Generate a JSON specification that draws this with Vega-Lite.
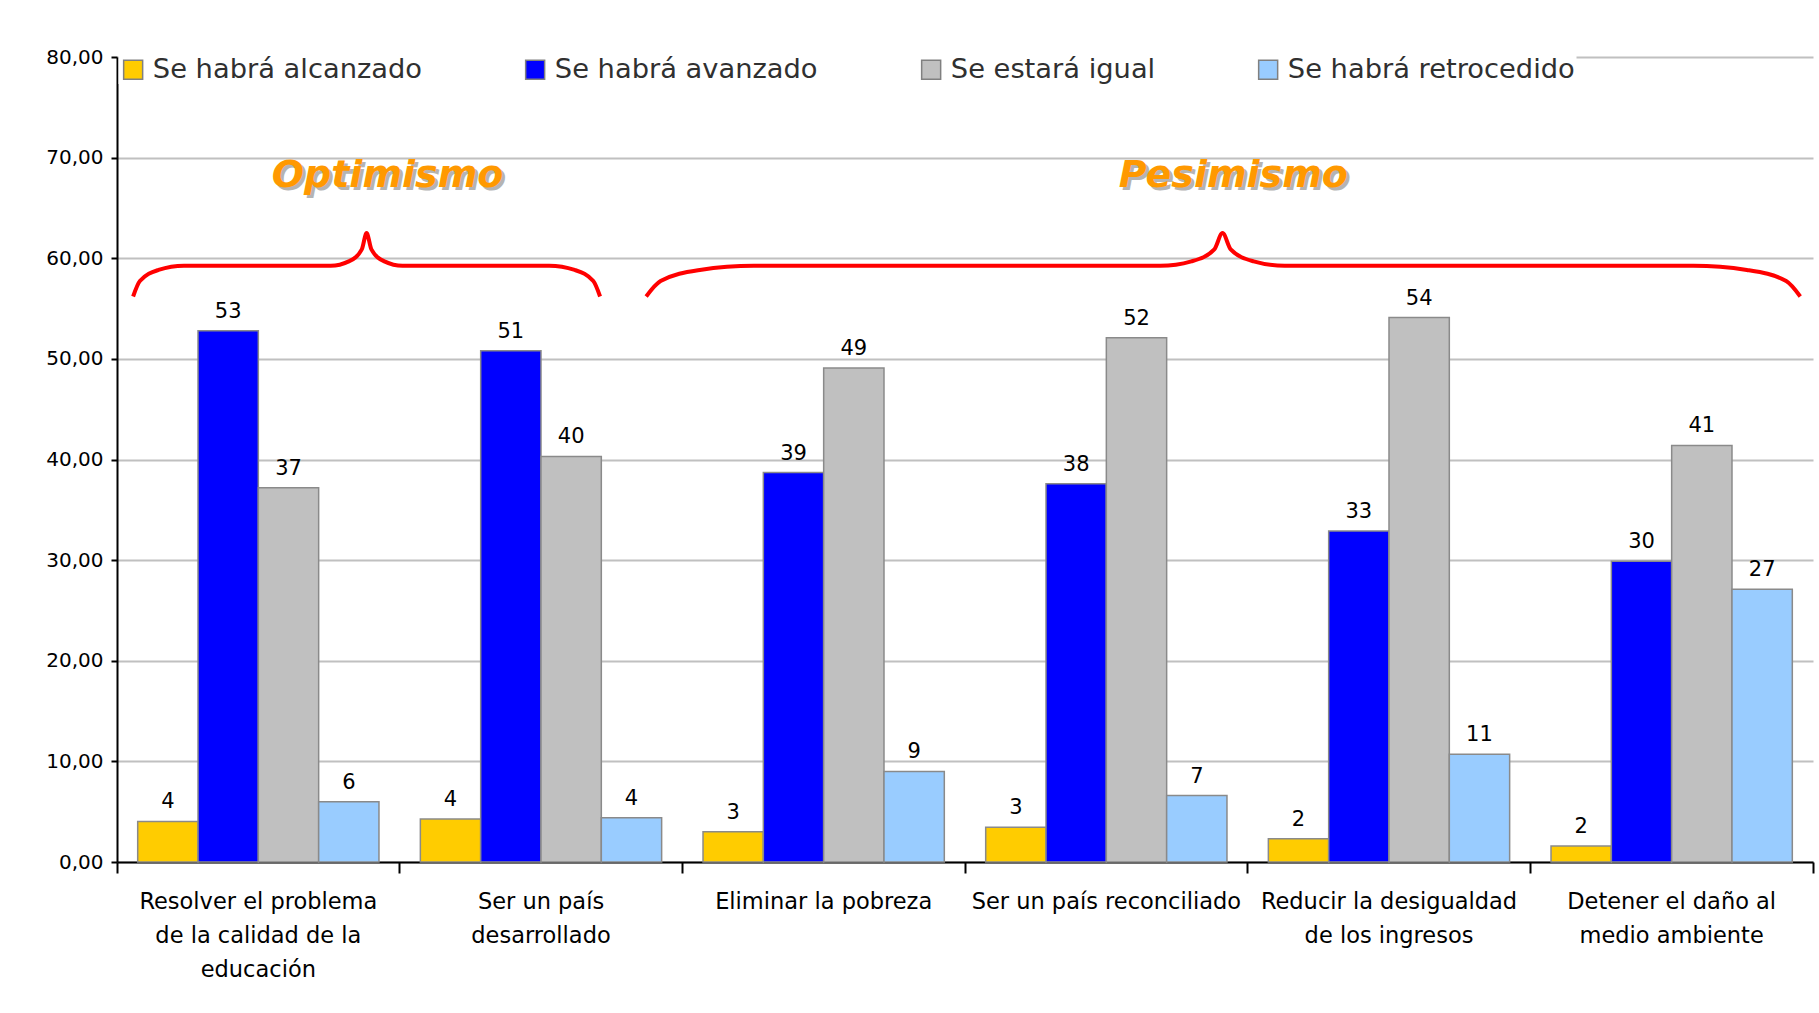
{
  "$schema": "https://vega.github.io/schema/vega-lite/v6.json",
  "width": 1696,
  "height": 805,
  "autosize": {"type": "none"},
  "padding": {"left": 117, "top": 57, "right": 6, "bottom": 151},
  "background": "white",
  "config": {"view": {"stroke": null}, "font": "DejaVu Sans"},
  "datasets": {
    "bars": [
      {"categoria": "Resolver el problema de la calidad de la educación", "serie": "Se habrá alcanzado", "valor": 4.03},
      {"categoria": "Resolver el problema de la calidad de la educación", "serie": "Se habrá avanzado", "valor": 52.8},
      {"categoria": "Resolver el problema de la calidad de la educación", "serie": "Se estará igual", "valor": 37.2},
      {"categoria": "Resolver el problema de la calidad de la educación", "serie": "Se habrá retrocedido", "valor": 6.0},
      {"categoria": "Ser un país desarrollado", "serie": "Se habrá alcanzado", "valor": 4.27},
      {"categoria": "Ser un país desarrollado", "serie": "Se habrá avanzado", "valor": 50.8},
      {"categoria": "Ser un país desarrollado", "serie": "Se estará igual", "valor": 40.3},
      {"categoria": "Ser un país desarrollado", "serie": "Se habrá retrocedido", "valor": 4.4},
      {"categoria": "Eliminar la pobreza", "serie": "Se habrá alcanzado", "valor": 3.0},
      {"categoria": "Eliminar la pobreza", "serie": "Se habrá avanzado", "valor": 38.7},
      {"categoria": "Eliminar la pobreza", "serie": "Se estará igual", "valor": 49.1},
      {"categoria": "Eliminar la pobreza", "serie": "Se habrá retrocedido", "valor": 9.0},
      {"categoria": "Ser un país reconciliado", "serie": "Se habrá alcanzado", "valor": 3.45},
      {"categoria": "Ser un país reconciliado", "serie": "Se habrá avanzado", "valor": 37.6},
      {"categoria": "Ser un país reconciliado", "serie": "Se estará igual", "valor": 52.1},
      {"categoria": "Ser un país reconciliado", "serie": "Se habrá retrocedido", "valor": 6.6},
      {"categoria": "Reducir la desigualdad de los ingresos", "serie": "Se habrá alcanzado", "valor": 2.3},
      {"categoria": "Reducir la desigualdad de los ingresos", "serie": "Se habrá avanzado", "valor": 32.9},
      {"categoria": "Reducir la desigualdad de los ingresos", "serie": "Se estará igual", "valor": 54.1},
      {"categoria": "Reducir la desigualdad de los ingresos", "serie": "Se habrá retrocedido", "valor": 10.7},
      {"categoria": "Detener el daño al medio ambiente", "serie": "Se habrá alcanzado", "valor": 1.6},
      {"categoria": "Detener el daño al medio ambiente", "serie": "Se habrá avanzado", "valor": 29.9},
      {"categoria": "Detener el daño al medio ambiente", "serie": "Se estará igual", "valor": 41.4},
      {"categoria": "Detener el daño al medio ambiente", "serie": "Se habrá retrocedido", "valor": 27.1}
    ],
    "notas": [
      {"texto": "Optimismo", "pos": 0.957, "nivel": 68.2},
      {"texto": "Pesimismo", "pos": 3.949, "nivel": 68.2}
    ],
    "llaves": [
      {"llave": "opt", "pos": 0.057, "nivel": 56.2},
      {"llave": "opt", "pos": 0.081, "nivel": 57.73},
      {"llave": "opt", "pos": 0.147, "nivel": 58.84},
      {"llave": "opt", "pos": 0.237, "nivel": 59.25},
      {"llave": "opt", "pos": 0.756, "nivel": 59.25},
      {"llave": "opt", "pos": 0.820, "nivel": 59.69},
      {"llave": "opt", "pos": 0.866, "nivel": 60.88},
      {"llave": "opt", "pos": 0.883, "nivel": 62.5},
      {"llave": "opt", "pos": 0.900, "nivel": 60.88},
      {"llave": "opt", "pos": 0.946, "nivel": 59.69},
      {"llave": "opt", "pos": 1.010, "nivel": 59.25},
      {"llave": "opt", "pos": 1.529, "nivel": 59.25},
      {"llave": "opt", "pos": 1.619, "nivel": 58.84},
      {"llave": "opt", "pos": 1.685, "nivel": 57.73},
      {"llave": "opt", "pos": 1.709, "nivel": 56.2},
      {"llave": "pes", "pos": 1.872, "nivel": 56.2},
      {"llave": "pes", "pos": 1.923, "nivel": 57.73},
      {"llave": "pes", "pos": 2.062, "nivel": 58.84},
      {"llave": "pes", "pos": 2.253, "nivel": 59.25},
      {"llave": "pes", "pos": 3.691, "nivel": 59.25},
      {"llave": "pes", "pos": 3.801, "nivel": 59.69},
      {"llave": "pes", "pos": 3.882, "nivel": 60.88},
      {"llave": "pes", "pos": 3.911, "nivel": 62.5},
      {"llave": "pes", "pos": 3.940, "nivel": 60.88},
      {"llave": "pes", "pos": 4.021, "nivel": 59.69},
      {"llave": "pes", "pos": 4.131, "nivel": 59.25},
      {"llave": "pes", "pos": 5.577, "nivel": 59.25},
      {"llave": "pes", "pos": 5.766, "nivel": 58.84},
      {"llave": "pes", "pos": 5.905, "nivel": 57.73},
      {"llave": "pes", "pos": 5.955, "nivel": 56.2}
    ]
  },
  "layer": [
    {
      "data": {"name": "bars"},
      "encoding": {
        "x": {
          "field": "categoria", "type": "nominal", "sort": null,
          "scale": {"paddingInner": 0, "paddingOuter": 0},
          "axis": {
            "title": null, "labelAngle": 0, "labelFontSize": 22.5, "labelColor": "black",
            "labelLimit": 0, "labelLineHeight": 34, "labelPadding": 17, "labelBaseline": "top",
            "domainColor": "black", "domainWidth": 2, "tickColor": "black", "tickWidth": 2,
            "tickSize": 11, "bandPosition": 1, "tickExtra": true, "grid": false,
            "labelExpr": "datum.value == 'Resolver el problema de la calidad de la educación' ? ['Resolver el problema', 'de la calidad de la', 'educación'] : datum.value == 'Ser un país desarrollado' ? ['Ser un país', 'desarrollado'] : datum.value == 'Reducir la desigualdad de los ingresos' ? ['Reducir la desigualdad', 'de los ingresos'] : datum.value == 'Detener el daño al medio ambiente' ? ['Detener el daño al', 'medio ambiente'] : datum.label"
          }
        },
        "xOffset": {
          "field": "serie", "type": "nominal", "sort": ["Se habrá alcanzado", "Se habrá avanzado", "Se estará igual", "Se habrá retrocedido"],
          "scale": {"paddingInner": 0, "paddingOuter": 0.343}
        },
        "y": {
          "field": "valor", "type": "quantitative",
          "scale": {"domain": [0, 80], "nice": false},
          "axis": {
            "title": null, "values": [0, 10, 20, 30, 40, 50, 60, 70, 80],
            "labelExpr": "replace(format(datum.value, '.2f'), '.', ',')",
            "labelFontSize": 20, "labelColor": "black", "labelPadding": 8,
            "tickSize": 6, "tickColor": "black", "tickWidth": 2,
            "domainColor": "black", "domainWidth": 2,
            "grid": true, "gridColor": "#c0c0c0", "gridWidth": 2
          }
        }
      },
      "layer": [
        {
          "mark": {"type": "bar", "stroke": "#8a8a8a", "strokeWidth": 1.5},
          "encoding": {
            "color": {
              "field": "serie", "type": "nominal",
              "scale": {
                "domain": ["Se habrá alcanzado", "Se habrá avanzado", "Se estará igual", "Se habrá retrocedido"],
                "range": ["#FFCC00", "#0000FF", "#C0C0C0", "#99CCFF"]
              },
              "legend": {
                "title": null, "orient": "none", "direction": "horizontal",
                "legendX": 1.5, "legendY": -2, "padding": 1, "fillColor": "white",
                "symbolType": "square", "symbolSize": 361, "symbolStrokeColor": "#808080",
                "symbolStrokeWidth": 1.5, "symbolOpacity": 1,
                "labelFontSize": 27.3, "labelColor": "#303030", "labelOffset": 6,
                "labelLimit": 0, "columnPadding": 99
              }
            }
          }
        },
        {
          "mark": {"type": "text", "baseline": "bottom", "dy": -9, "fontSize": 21, "color": "black"},
          "encoding": {"text": {"field": "valor", "type": "quantitative", "format": ".0f"}}
        }
      ]
    },
    {
      "data": {"name": "llaves"},
      "mark": {"type": "line", "color": "#FF0000", "strokeWidth": 4, "interpolate": "monotone"},
      "encoding": {
        "x": {"field": "pos", "type": "quantitative", "scale": {"domain": [0, 6], "nice": false}, "axis": null},
        "y": {"field": "nivel", "type": "quantitative"},
        "detail": {"field": "llave", "type": "nominal"}
      }
    },
    {
      "data": {"name": "notas"},
      "mark": {"type": "text", "fontSize": 38, "fontWeight": "bold", "fontStyle": "italic", "color": "#B4B4B4", "dx": 3, "dy": 3},
      "encoding": {
        "x": {"field": "pos", "type": "quantitative", "scale": {"domain": [0, 6], "nice": false}, "axis": null},
        "y": {"field": "nivel", "type": "quantitative"},
        "text": {"field": "texto"}
      }
    },
    {
      "data": {"name": "notas"},
      "mark": {"type": "text", "fontSize": 38, "fontWeight": "bold", "fontStyle": "italic", "color": "#FF9900"},
      "encoding": {
        "x": {"field": "pos", "type": "quantitative", "scale": {"domain": [0, 6], "nice": false}, "axis": null},
        "y": {"field": "nivel", "type": "quantitative"},
        "text": {"field": "texto"}
      }
    }
  ],
  "resolve": {"scale": {"x": "independent"}}
}
